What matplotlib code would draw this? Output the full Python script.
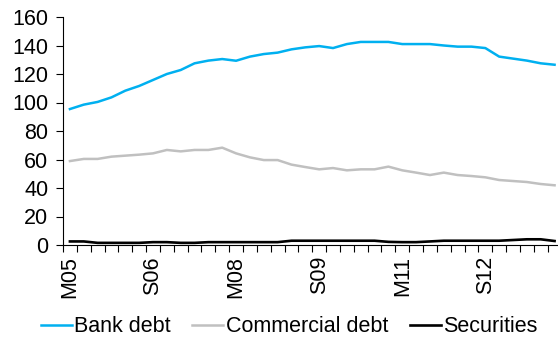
import matplotlib
matplotlib.use("Agg")
import matplotlib.pyplot as plt
import numpy as np

# Quarterly series, Mar-05 to Dec-13
years = list(range(2005, 2014))
quarter_codes = ["M", "J", "S", "D"]
quarters = [f"{q}{y % 100:02d}" for y in years for q in quarter_codes]

bank_debt = [
    95.4, 98.5, 100.4, 103.6, 108.3, 111.6, 115.8, 120.0, 122.8, 127.5,
    129.4, 130.5, 129.3, 132.2, 134.0, 135.0, 137.3, 138.7, 139.6, 138.2,
    141.0, 142.5, 142.5, 142.5, 141.0, 141.0, 141.0, 140.0, 139.2, 139.2,
    138.2, 132.2, 130.8, 129.4, 127.5, 126.5,
]
commercial_debt = [
    58.9, 60.4, 60.4, 62.0, 62.7, 63.4, 64.3, 66.7, 65.7, 66.7,
    66.7, 68.3, 64.3, 61.5, 59.6, 59.6, 56.4, 54.7, 53.1, 54.0,
    52.4, 53.1, 53.1, 55.0, 52.4, 50.8, 49.1, 50.8, 49.1, 48.4,
    47.5, 45.6, 44.9, 44.2, 42.8, 41.9,
]
securities = [
    2.5, 2.5, 1.5, 1.5, 1.5, 1.5, 2.0, 2.0, 1.5, 1.5,
    2.0, 2.0, 2.0, 2.0, 2.0, 2.0, 3.0, 3.0, 3.0, 3.0,
    3.0, 3.0, 3.0, 2.2, 2.0, 2.0, 2.5, 3.0, 3.0, 3.0,
    3.0, 3.0, 3.5, 4.0, 4.0, 2.8,
]

plt.rcParams["font.family"] = ["Liberation Sans", "DejaVu Sans"]
FS = 15.5

fig = plt.figure(figsize=(5.58, 3.39), dpi=100)
ax = fig.add_axes([63 / 558, 94 / 339, 498.5 / 558, 228 / 339])

x = np.arange(len(quarters))
ax.plot(x, bank_debt, color="#00B0F0", lw=1.8, label="Bank debt")
ax.plot(x, commercial_debt, color="#C0C0C0", lw=1.8, label="Commercial debt")
ax.plot(x, securities, color="#000000", lw=1.9, label="Securities")

ax.set_xlim(-0.5, len(quarters) - 0.5)
ax.set_ylim(0, 160)
ax.set_yticks(np.arange(0, 161, 20))

# tick marks between quarters, labels every six quarters
ax.set_xticks(np.arange(len(quarters) + 1) - 0.5)
ax.set_xticklabels([])
ax.set_xticks(x[::6], minor=True)
ax.set_xticklabels(quarters[::6], minor=True, rotation=90)
ax.tick_params(axis="x", which="major", length=5, width=0.8, direction="out")
ax.tick_params(axis="x", which="minor", length=0, pad=8, labelsize=FS)
ax.tick_params(axis="y", length=5, width=0.8, direction="out", labelsize=FS, pad=5.5)

for side in ["top", "right"]:
    ax.spines[side].set_visible(False)
for side in ["left", "bottom"]:
    ax.spines[side].set_linewidth(0.8)

fig.legend(
    loc="center",
    bbox_to_anchor=(289 / 558, 1 - 327 / 339),
    ncol=3,
    frameon=False,
    fontsize=FS,
    handlelength=1.45,
    handletextpad=0.1,
    columnspacing=1.0,
    borderpad=0,
)

fig.savefig("out.png", dpi=100)
